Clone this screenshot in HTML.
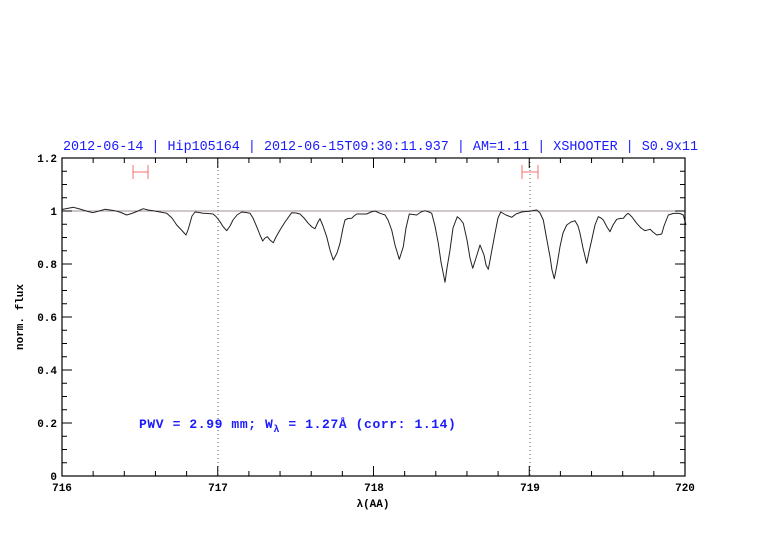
<!DOCTYPE html>
<html><head><meta charset="utf-8"><style>html,body{margin:0;padding:0;background:#fff}svg{display:block}</style></head>
<body>
<svg width="782" height="542" viewBox="0 0 782 542" xmlns="http://www.w3.org/2000/svg" font-family="Liberation Mono, monospace">
<rect width="782" height="542" fill="#fff"/>
<text x="63" y="150" font-size="13.5" fill="#1a1aff" textLength="635" lengthAdjust="spacingAndGlyphs">2012-06-14 | Hip105164 | 2012-06-15T09:30:11.937 | AM=1.11 | XSHOOTER | S0.9x11</text>
<line x1="218" y1="158" x2="218" y2="476" stroke="#555" stroke-width="1" stroke-dasharray="1,3"/>
<line x1="530" y1="158" x2="530" y2="476" stroke="#555" stroke-width="1" stroke-dasharray="1,3"/>
<line x1="62" y1="211" x2="685" y2="211" stroke="#a09090" stroke-width="1"/>
<g stroke="#f07070" stroke-width="1">
<line x1="133" y1="172" x2="148" y2="172"/><line x1="133" y1="165" x2="133" y2="179"/><line x1="148" y1="165" x2="148" y2="179"/>
<line x1="522" y1="172" x2="538" y2="172"/><line x1="522" y1="165" x2="522" y2="179"/><line x1="538" y1="165" x2="538" y2="179"/>
</g>
<polyline fill="none" stroke="#222" stroke-width="1" stroke-linejoin="round" points="
62,209.5 67,208.5 73.3,207.3 78,208.5 83,210 88,211.5 93,212.7 99,211 105,209.3 110,210 115,210.7 121,212.5 126.7,215 130,214 133,213 138,211 143.3,208.7 148,210 153.3,210.7 160,212 166.7,213.3 172,218 176.7,225 181,229.5 186,235 188,230 190,223 192,216 195,212 199,212.5 203,213.3 208,213.5 213,214 216,216.5 220,221.7 223,226.5 226.7,230.7 230,226 233,220 237,215 241.7,212 246,212.5 250,213.3 253,218 256.7,226.7 260,235 262.7,241 265,238 267.3,236.7 270,240 273.3,242.7 276,237 280,230 285,222 291.7,212.7 296,213 300,214 304,218 308.3,223.3 312,227 315,228.7 318,222 320,218.7 323,226 326.7,236.7 330,250 333.3,260 337,253 340,243.3 343,228 345,220 348,218.5 351.7,218.3 354,216 356.7,214 362,214 366.7,214 371,212 375,211 380,213.3 385,215 388,220 391.7,230 395,245 399.3,259.3 401,254 403.3,246.7 406,228 409.3,214 413,214.5 416.7,215 421,212 425,210.7 429,212 431.7,213.3 435,226 438.3,243.3 441,262 445,282.3 447,268 450,250 453,228 457.3,216.7 460,219 463.3,223.3 467,240 470,258 472.7,268.3 476,258 480,245 484,255 486,265 488.3,269.3 491,255 495,233.3 498,218 500.7,212 506,215 511.7,217.3 516,214 521.7,212 526,211.5 530,211.3 533,210.5 536.7,210 540,213 543.3,220 546,235 550,256.7 552,270 554.3,278.7 557,265 560,246.7 563,233 566.7,225 571,222 575,220.7 578,226 580,233.3 583,248 586.7,263.3 589,252 591.7,240 595,225 598.3,216.7 601,218 603.3,220 607,227 610,231.7 613,225 616.7,219.3 620,218.5 623.3,218.3 626,215 628.3,213.3 632,217 636.7,223.3 641,228 645,230.7 650,229.3 653,232 656.7,235 661.7,234 664,226 668.3,215 673,213.5 676.7,213.3 680,213.5 683.3,215 686,225"/>
<rect x="62" y="158" width="623" height="318" fill="none" stroke="#000" stroke-width="1.2"/>
<g stroke="#000" stroke-width="1">
<path d="M62,476v-10M217.75,476v-10M373.5,476v-10M529.25,476v-10M685,476v-10 M62,158v10M217.75,158v10M373.5,158v10M529.25,158v10M685,158v10
M93.15,476v-5M124.3,476v-5M155.45,476v-5M186.6,476v-5M248.9,476v-5M280.05,476v-5M311.2,476v-5M342.35,476v-5M404.65,476v-5M435.8,476v-5M466.95,476v-5M498.1,476v-5M560.4,476v-5M591.55,476v-5M622.7,476v-5M653.85,476v-5
M93.15,158v5M124.3,158v5M155.45,158v5M186.6,158v5M248.9,158v5M280.05,158v5M311.2,158v5M342.35,158v5M404.65,158v5M435.8,158v5M466.95,158v5M498.1,158v5M560.4,158v5M591.55,158v5M622.7,158v5M653.85,158v5"/>
<path d="M62,476h10M62,423h10M62,370h10M62,317h10M62,264h10M62,211h10M62,158h10 M685,476h-10M685,423h-10M685,370h-10M685,317h-10M685,264h-10M685,211h-10M685,158h-10
M62,462.75h5M62,449.5h5M62,436.25h5M62,409.75h5M62,396.5h5M62,383.25h5M62,356.75h5M62,343.5h5M62,330.25h5M62,303.75h5M62,290.5h5M62,277.25h5M62,250.75h5M62,237.5h5M62,224.25h5M62,197.75h5M62,184.5h5M62,171.25h5
M685,462.75h-5M685,449.5h-5M685,436.25h-5M685,409.75h-5M685,396.5h-5M685,383.25h-5M685,356.75h-5M685,343.5h-5M685,330.25h-5M685,303.75h-5M685,290.5h-5M685,277.25h-5M685,250.75h-5M685,237.5h-5M685,224.25h-5M685,197.75h-5M685,184.5h-5M685,171.25h-5"/>
</g>
<g font-size="11" fill="#000" text-anchor="middle" font-weight="bold">
<text x="62" y="491">716</text><text x="218" y="491">717</text><text x="374" y="491">718</text><text x="530" y="491">719</text><text x="685" y="491">720</text>
</g>
<g font-size="11" fill="#000" text-anchor="end" font-weight="bold">
<text x="57" y="480">0</text><text x="57" y="427">0.2</text><text x="57" y="374">0.4</text><text x="57" y="321">0.6</text><text x="57" y="268">0.8</text><text x="57" y="215">1</text><text x="57" y="162">1.2</text>
</g>
<text x="373" y="507" font-size="11" text-anchor="middle" font-weight="bold">λ(AA)</text>
<text transform="translate(23,317) rotate(-90)" font-size="11" text-anchor="middle" font-weight="bold">norm. flux</text>
<text x="139" y="428" font-size="13" fill="#1a1aff" font-weight="bold" letter-spacing="0.6">PWV = 2.99 mm; W<tspan font-size="10" dy="4">λ</tspan><tspan dy="-4"> = 1.27Å (corr: 1.14)</tspan></text>
</svg>
</body></html>
